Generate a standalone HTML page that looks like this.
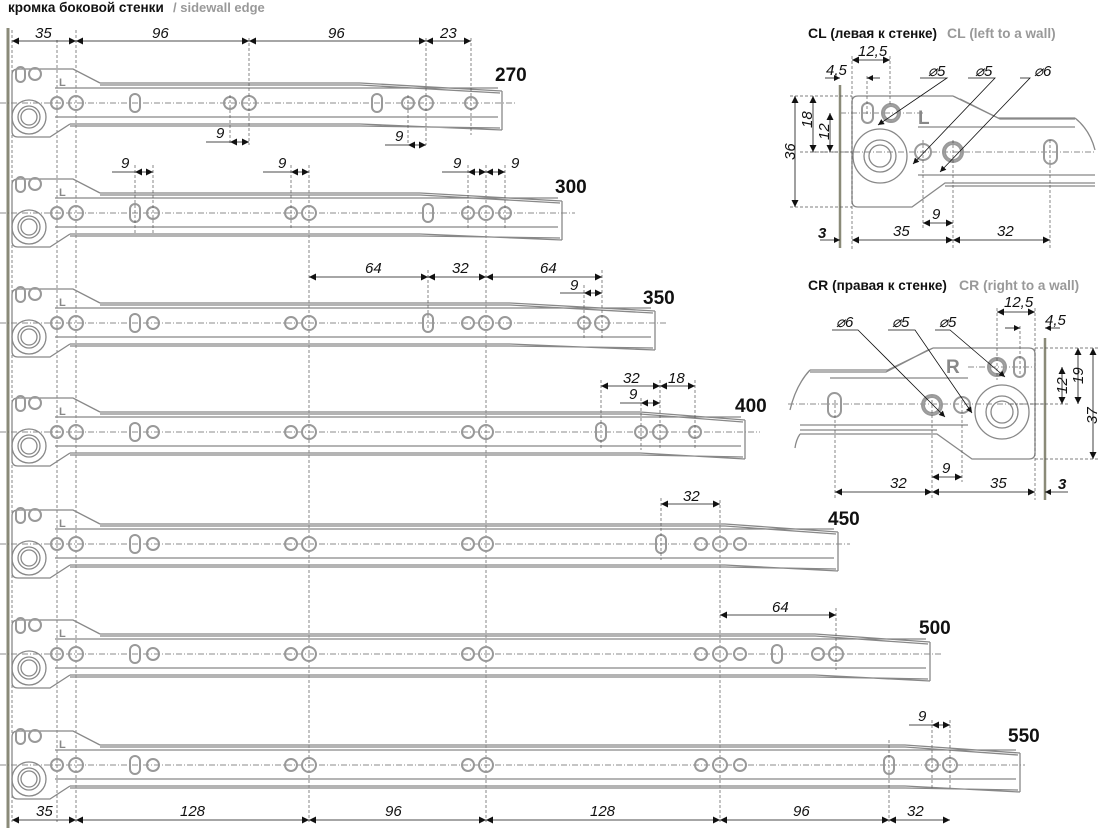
<!DOCTYPE html><html><head><meta charset="utf-8"><style>
body{margin:0;background:#fff}
svg{display:block}
.t{font-family:"Liberation Sans",sans-serif}
.d{font-family:"Liberation Sans",sans-serif;font-style:italic;font-size:15px;fill:#111}
.n{font-family:"Liberation Sans",sans-serif;font-weight:bold;font-size:19px;fill:#111}
.g{fill:none;stroke:#888;stroke-width:1.3}
.h{fill:none;stroke:#999;stroke-width:2}
.c{stroke:#666;stroke-width:.7;stroke-dasharray:6 2 1 2;fill:none}
.v{stroke:#555;stroke-width:.7;stroke-dasharray:3 2;fill:none}
.dl{stroke:#111;stroke-width:.8;fill:none;marker-start:url(#a);marker-end:url(#a)}
.ln{stroke:#111;stroke-width:.8;fill:none}
</style></head><body>
<svg width="1100" height="828" viewBox="0 0 1100 828" xmlns="http://www.w3.org/2000/svg">
<defs>
<marker id="a" viewBox="0 0 10 10" refX="10" refY="5" markerWidth="9" markerHeight="7" orient="auto-start-reverse" markerUnits="userSpaceOnUse"><path d="M0,0L10,5L0,10z" fill="#111"/></marker>
<marker id="b" viewBox="0 0 10 10" refX="10" refY="5" markerWidth="9" markerHeight="6" orient="auto" markerUnits="userSpaceOnUse"><path d="M0,0L10,5L0,10z" fill="#111"/></marker>
<g id="br">
<path class="g" d="M70,21 L50,34 H18 Q12,34 12,28 V-28 Q12,-34 18,-34 H73 L100,-20"/>
<circle class="g" cx="29" cy="14" r="17"/><circle class="g" cx="29" cy="14" r="11"/><circle class="g" cx="29" cy="14" r="8"/>
<rect class="h" x="16" y="-36" width="9" height="15" rx="4.5"/><circle class="h" cx="35" cy="-29" r="6"/>
<text x="59" y="-17" class="t" font-size="11" font-weight="bold" fill="#888">L</text>
<circle class="h" cx="57" cy="0" r="6"/><circle class="h" cx="76" cy="0" r="7"/>
</g>
<rect id="s" class="h" x="-5" y="-9" width="10" height="18" rx="5"/>
</defs>

<text x="8" y="12" class="t" font-size="13.5" font-weight="bold" fill="#111">кромка боковой стенки</text>
<text x="173" y="12" class="t" font-size="13" font-weight="bold" fill="#999">/ sidewall edge</text>

<line x1="8" y1="28" x2="8" y2="828" stroke="#8a8a78" stroke-width="3"/>
<path class="v" d="M12,30V822 M57,40V822 M76,30V822 M309,165V822 M486,165V822 M720,500V822"/>

<g transform="translate(0,103)">
<path class="c" d="M0,0H515"/>
<path class="g" d="M100,-20H360L502,-12 M100,-18H360L500,-10 M55,-15H498 M55,14H498 M70,21H360L502,27 M70,23H360L500,25 M502,-12V27"/>
<use href="#br"/>
<use href="#s" x="135"/><circle class="h" cx="230" r="6"/><circle class="h" cx="249" r="7"/>
<use href="#s" x="377"/><circle class="h" cx="408" r="6"/><circle class="h" cx="426" r="7"/><circle class="h" cx="471" r="6"/>
</g>
<g transform="translate(0,213)">
<path class="c" d="M0,0H575"/>
<path class="g" d="M100,-20H420L562,-12 M100,-18H420L560,-10 M55,-15H558 M55,14H558 M70,21H420L562,27 M70,23H420L560,25 M562,-12V27"/>
<use href="#br"/>
<use href="#s" x="135"/><circle class="h" cx="153" r="6"/><circle class="h" cx="291" r="6"/><circle class="h" cx="309" r="7"/>
<use href="#s" x="428"/><circle class="h" cx="468" r="6"/><circle class="h" cx="486" r="7"/><circle class="h" cx="505" r="6"/>
</g>
<g transform="translate(0,323)">
<path class="c" d="M0,0H668"/>
<path class="g" d="M100,-20H510L655,-12 M100,-18H510L653,-10 M55,-15H651 M55,14H651 M70,21H510L655,27 M70,23H510L653,25 M655,-12V27"/>
<use href="#br"/>
<use href="#s" x="135"/><circle class="h" cx="153" r="6"/><circle class="h" cx="291" r="6"/><circle class="h" cx="309" r="7"/>
<use href="#s" x="428"/><circle class="h" cx="468" r="6"/><circle class="h" cx="486" r="7"/><circle class="h" cx="505" r="6"/>
<circle class="h" cx="584" r="6"/><circle class="h" cx="602" r="7"/>
</g>
<g transform="translate(0,432)">
<path class="c" d="M0,0H760"/>
<path class="g" d="M100,-20H640L745,-12 M100,-18H640L743,-10 M55,-15H741 M55,14H741 M70,21H640L745,27 M70,23H640L743,25 M745,-12V27"/>
<use href="#br"/>
<use href="#s" x="135"/><circle class="h" cx="153" r="6"/><circle class="h" cx="291" r="6"/><circle class="h" cx="309" r="7"/>
<circle class="h" cx="468" r="6"/><circle class="h" cx="486" r="7"/>
<use href="#s" x="601"/><circle class="h" cx="641" r="6"/><circle class="h" cx="660" r="7"/><circle class="h" cx="695" r="6"/>
</g>
<g transform="translate(0,544)">
<path class="c" d="M0,0H850"/>
<path class="g" d="M100,-20H725L838,-12 M100,-18H725L836,-10 M55,-15H834 M55,14H834 M70,21H725L838,27 M70,23H725L836,25 M838,-12V27"/>
<use href="#br"/>
<use href="#s" x="135"/><circle class="h" cx="153" r="6"/><circle class="h" cx="291" r="6"/><circle class="h" cx="309" r="7"/>
<circle class="h" cx="468" r="6"/><circle class="h" cx="486" r="7"/>
<use href="#s" x="661"/><circle class="h" cx="701" r="6"/><circle class="h" cx="720" r="7"/><circle class="h" cx="740" r="6"/>
</g>
<g transform="translate(0,654)">
<path class="c" d="M0,0H943"/>
<path class="g" d="M100,-20H815L930,-12 M100,-18H815L928,-10 M55,-15H926 M55,14H926 M70,21H815L930,27 M70,23H815L928,25 M930,-12V27"/>
<use href="#br"/>
<use href="#s" x="135"/><circle class="h" cx="153" r="6"/><circle class="h" cx="291" r="6"/><circle class="h" cx="309" r="7"/>
<circle class="h" cx="468" r="6"/><circle class="h" cx="486" r="7"/>
<circle class="h" cx="701" r="6"/><circle class="h" cx="720" r="7"/><circle class="h" cx="740" r="6"/>
<use href="#s" x="777"/><circle class="h" cx="818" r="6"/><circle class="h" cx="836" r="7"/>
</g>
<g transform="translate(0,765)">
<path class="c" d="M0,0H1025"/>
<path class="g" d="M100,-20H905L1020,-12 M100,-18H905L1018,-10 M55,-15H1016 M55,14H1016 M70,21H905L1020,27 M70,23H905L1018,25 M1020,-12V27"/>
<use href="#br"/>
<use href="#s" x="135"/><circle class="h" cx="153" r="6"/><circle class="h" cx="291" r="6"/><circle class="h" cx="309" r="7"/>
<circle class="h" cx="468" r="6"/><circle class="h" cx="486" r="7"/>
<circle class="h" cx="701" r="6"/><circle class="h" cx="720" r="7"/><circle class="h" cx="740" r="6"/>
<use href="#s" x="889"/><circle class="h" cx="932" r="6"/><circle class="h" cx="950" r="7"/>
</g>

<text x="495" y="81" class="n">270</text>
<text x="555" y="193" class="n">300</text>
<text x="643" y="304" class="n">350</text>
<text x="735" y="412" class="n">400</text>
<text x="828" y="525" class="n">450</text>
<text x="919" y="634" class="n">500</text>
<text x="1008" y="742" class="n">550</text>

<path class="v" d="M249,38V145 M426,38V145 M230,95V145 M408,95V145 M471,38V135
M135,165V235 M153,165V235 M291,165V230 M468,165V230 M505,165V230
M428,270V330 M602,270V340 M584,285V340
M601,380V450 M660,380V450 M695,380V450 M641,398V450
M661,498V560
M836,608V670
M932,720V790 M950,720V790 M889,740V822"/>

<path class="dl" d="M12,41H76"/><path class="dl" d="M76,41H249"/><path class="dl" d="M249,41H426"/><path class="dl" d="M426,41H471"/>
<text x="35" y="38" class="d">35</text><text x="152" y="38" class="d">96</text><text x="328" y="38" class="d">96</text><text x="440" y="38" class="d">23</text>

<path class="ln" d="M206,142H230 M385,145H408"/>
<path class="dl" d="M230,142H249"/><path class="dl" d="M408,145H426"/>
<text x="216" y="138" class="d">9</text><text x="395" y="141" class="d">9</text>

<path class="ln" d="M112,172H135 M263,172H291 M442,172H468"/>
<path class="dl" d="M135,172H153"/><path class="dl" d="M291,172H309"/><path class="dl" d="M468,172H486"/><path class="dl" d="M486,172H505"/>
<text x="121" y="168" class="d">9</text><text x="278" y="168" class="d">9</text><text x="453" y="168" class="d">9</text><text x="511" y="168" class="d">9</text>

<path class="dl" d="M309,277H428"/><path class="dl" d="M428,277H486"/><path class="dl" d="M486,277H602"/>
<text x="365" y="273" class="d">64</text><text x="452" y="273" class="d">32</text><text x="540" y="273" class="d">64</text>
<path class="ln" d="M560,293H584"/><path class="dl" d="M584,293H602"/>
<text x="570" y="290" class="d">9</text>

<path class="dl" d="M601,386H660"/><path class="dl" d="M660,386H695"/>
<text x="623" y="383" class="d">32</text><text x="668" y="383" class="d">18</text>
<path class="ln" d="M620,403H641"/><path class="dl" d="M641,403H660"/>
<text x="629" y="399" class="d">9</text>

<path class="dl" d="M661,504H720"/><text x="683" y="501" class="d">32</text>
<path class="dl" d="M720,615H836"/><text x="772" y="612" class="d">64</text>
<path class="ln" d="M909,725H932"/><path class="dl" d="M932,725H950"/><text x="918" y="721" class="d">9</text>

<path class="dl" d="M12,820H76"/><path class="dl" d="M76,820H309"/><path class="dl" d="M309,820H486"/><path class="dl" d="M486,820H720"/><path class="dl" d="M720,820H889"/><path class="dl" d="M889,820H950"/>
<text x="36" y="816" class="d">35</text><text x="180" y="816" class="d">128</text><text x="385" y="816" class="d">96</text><text x="590" y="816" class="d">128</text><text x="793" y="816" class="d">96</text><text x="907" y="816" class="d">32</text>

<!-- CL inset -->
<text x="808" y="38" class="t" font-size="14" font-weight="bold" fill="#111">CL <tspan font-size="13.5">(левая к стенке)</tspan></text>
<text x="947" y="38" class="t" font-size="14" font-weight="bold" fill="#999">CL <tspan font-size="13.5">(left to a wall)</tspan></text>
<path class="c" d="M810,152H1095 M840,113H925"/>
<line x1="840" y1="85" x2="840" y2="248" stroke="#8a8a78" stroke-width="2.5"/>
<path class="g" d="M953,96H858Q852,96 852,102V201Q852,207 858,207H912L945,183H1095 M953,96L998,118H1075 M960,99L1000,119H1075 M918,127H1075 M918,175H1095 M945,186H1095"/>
<path class="g" d="M1075,118Q1090,130 1095,150"/>
<circle class="g" cx="880" cy="156" r="27"/><circle class="g" cx="880" cy="156" r="16"/><circle class="g" cx="880" cy="156" r="11"/>
<rect class="h" x="862" y="103" width="11" height="20" rx="5.5"/><circle class="h" cx="891" cy="113" r="9"/><circle class="h" cx="891" cy="113" r="7" stroke-width="1"/>
<circle class="h" cx="923" cy="152" r="8"/><circle class="h" cx="953" cy="152" r="10"/><circle class="h" cx="953" cy="152" r="8" stroke-width="1"/>
<rect class="h" x="1044" y="140" width="13" height="24" rx="6.5"/>
<text x="918" y="124" class="t" font-size="19" font-weight="bold" fill="#888">L</text>
<path class="v" d="M852,56V250 M867,76V115 M890,56V105 M923,140V230 M953,140V250 M1050,140V250 M790,96H852 M790,207H852 M800,152H852"/>
<path class="dl" d="M852,60H890"/><text x="858" y="56" class="d">12,5</text>
<path class="ln" d="M825,78H840" marker-end="url(#b)"/><path class="ln" d="M880,78H867" marker-end="url(#b)"/>
<text x="826" y="75" class="d">4,5</text>
<path class="dl" d="M795,96V207"/><path class="dl" d="M813,96V152"/><path class="dl" d="M830,113V152"/>
<text transform="translate(795,160) rotate(-90)" class="d">36</text>
<text transform="translate(812,128) rotate(-90)" class="d">18</text>
<text transform="translate(829,140) rotate(-90)" class="d">12</text>
<path class="ln" d="M920,78H947L878,125" marker-end="url(#b)"/><path class="ln" d="M968,78H995L913,164" marker-end="url(#b)"/><path class="ln" d="M1020,78H1030L940,172" marker-end="url(#b)"/>
<text x="928" y="76" class="d">⌀5</text><text x="975" y="76" class="d">⌀5</text><text x="1034" y="76" class="d">⌀6</text>
<path class="dl" d="M923,223H953"/><text x="932" y="219" class="d">9</text>
<path class="dl" d="M852,240H953"/><path class="dl" d="M953,240H1050"/><text x="893" y="236" class="d">35</text><text x="997" y="236" class="d">32</text>
<path class="ln" d="M820,240H840" marker-end="url(#b)" stroke-width="1.5"/><text x="818" y="238" class="d" font-weight="bold">3</text>

<!-- CR inset -->
<text x="808" y="290" class="t" font-size="14" font-weight="bold" fill="#111">CR <tspan font-size="13.5">(правая к стенке)</tspan></text>
<text x="959" y="290" class="t" font-size="14" font-weight="bold" fill="#999">CR <tspan font-size="13.5">(right to a wall)</tspan></text>
<path class="c" d="M788,404H1045 M968,367H1035"/>
<line x1="1045" y1="338" x2="1045" y2="500" stroke="#8a8a78" stroke-width="2.5"/>
<path class="g" d="M933,348H1029Q1035,348 1035,354V453Q1035,459 1029,459H972L937,434H800 M933,348L888,370H810 M928,350L886,372H810 M830,378H968 M800,425H968 M800,430H937"/>
<path class="g" d="M810,370Q796,385 790,410 M800,434Q796,440 795,448"/>
<circle class="g" cx="1002" cy="412" r="27"/><circle class="g" cx="1002" cy="412" r="16"/><circle class="g" cx="1002" cy="412" r="11"/>
<circle class="h" cx="997" cy="367" r="9"/><circle class="h" cx="997" cy="367" r="7" stroke-width="1"/><rect class="h" x="1014" y="357" width="11" height="20" rx="5.5"/>
<circle class="h" cx="962" cy="405" r="8"/><circle class="h" cx="932" cy="405" r="10"/><circle class="h" cx="932" cy="405" r="8" stroke-width="1"/>
<rect class="h" x="828" y="393" width="13" height="24" rx="6.5"/>
<text x="946" y="373" class="t" font-size="19" font-weight="bold" fill="#888">R</text>
<path class="v" d="M1035,308V500 M1020,326V375 M997,308V380 M962,400V482 M932,400V500 M835,400V500 M1035,348H1098 M1035,459H1098 M1010,404H1070"/>
<path class="dl" d="M997,312H1035"/><text x="1004" y="307" class="d">12,5</text>
<path class="ln" d="M1005,328H1020" marker-end="url(#b)"/><path class="ln" d="M1060,328H1045" marker-end="url(#b)"/>
<text x="1045" y="325" class="d">4,5</text>
<path class="dl" d="M1062,367V404"/><path class="dl" d="M1078,348V404"/><path class="dl" d="M1093,348V459"/>
<text transform="translate(1067,394) rotate(-90)" class="d">12</text>
<text transform="translate(1083,384) rotate(-90)" class="d">19</text>
<text transform="translate(1097,424) rotate(-90)" class="d">37</text>
<path class="ln" d="M832,330H858L945,417" marker-end="url(#b)"/><path class="ln" d="M888,330H915L972,413" marker-end="url(#b)"/><path class="ln" d="M935,330H950L1005,377" marker-end="url(#b)"/>
<text x="836" y="327" class="d">⌀6</text><text x="892" y="327" class="d">⌀5</text><text x="939" y="327" class="d">⌀5</text>
<path class="dl" d="M932,477H962"/><text x="942" y="473" class="d">9</text>
<path class="dl" d="M835,492H932"/><path class="dl" d="M932,492H1035"/><text x="890" y="488" class="d">32</text><text x="990" y="488" class="d">35</text>
<path class="ln" d="M1068,492H1045" marker-end="url(#b)" stroke-width="1.5"/><text x="1058" y="489" class="d" font-weight="bold">3</text>
</svg>
</body></html>
